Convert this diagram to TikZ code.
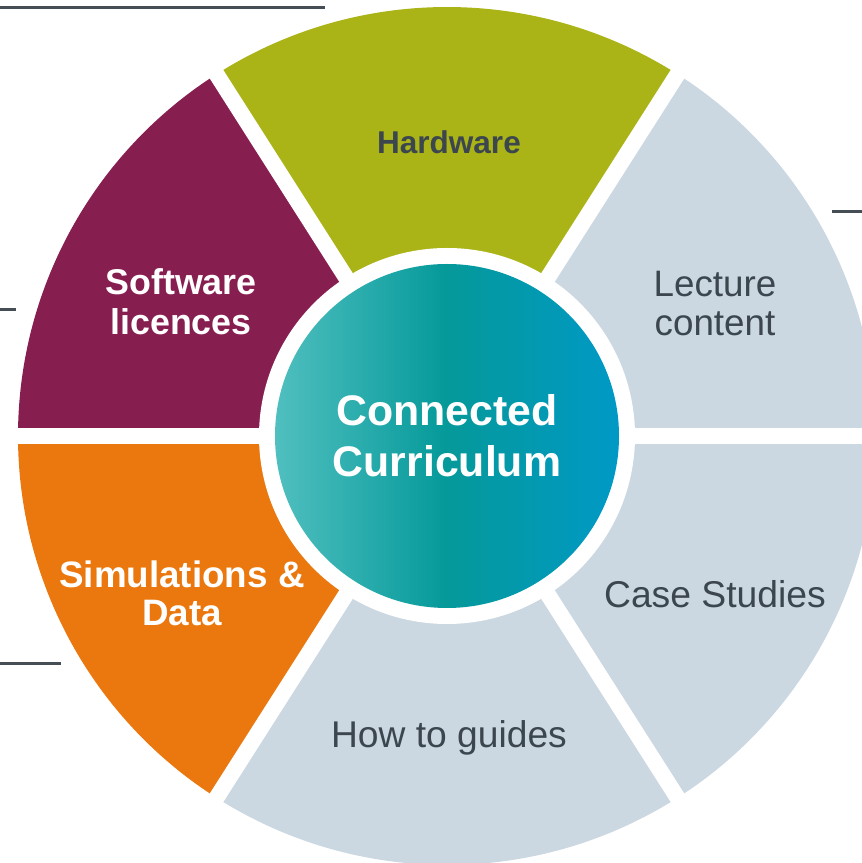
\documentclass[tikz,border=0pt]{standalone}
\usepackage{fontspec}
\setmainfont{Liberation Sans}
\definecolor{segpurple}{HTML}{871E50}
\definecolor{seggreen}{HTML}{AAB416}
\definecolor{segorange}{HTML}{EA780E}
\definecolor{seggray}{HTML}{CBD8E1}
\definecolor{txtdark}{HTML}{3C464E}
\definecolor{linedark}{HTML}{464E55}
\definecolor{hubleft}{HTML}{50BFBF}
\definecolor{hubmid}{HTML}{05999A}
\definecolor{hubright}{HTML}{0099C6}
\tikzset{
  gapline/.style={white, line width=16pt},
  deco/.style={linedark, line width=2.5pt},
  lbldark/.style={text=txtdark, align=center, inner sep=0pt},
  lbllight/.style={text=white, align=center, inner sep=0pt},
}
\begin{document}
\begin{tikzpicture}[x=1pt,y=1pt]
\useasboundingbox (0,0) rectangle (862,863);
\clip (0,0) rectangle (862,863);
\coordinate (C) at (447,427);
% sectors
\fill[seggray]   (C) -- ++(-57.5:429pt) arc[start angle=-57.5, end angle=0, radius=429pt] -- cycle;
\fill[seggray]   (C) -- ++(0:429pt) arc[start angle=0, end angle=57.5, radius=429pt] -- cycle;
\fill[seggreen]  (C) -- ++(57.5:429pt) arc[start angle=57.5, end angle=122.5, radius=429pt] -- cycle;
\fill[segpurple] (C) -- ++(122.5:429pt) arc[start angle=122.5, end angle=180, radius=429pt] -- cycle;
\fill[segorange] (C) -- ++(180:429pt) arc[start angle=180, end angle=237.5, radius=429pt] -- cycle;
\fill[seggray]   (C) -- ++(237.5:429pt) arc[start angle=237.5, end angle=302.5, radius=429pt] -- cycle;
% gaps
\foreach \a in {0,57.5,122.5,180,237.5,302.5}
  \draw[gapline] (C) -- ++(\a:460pt);
\fill[white] (C) circle[radius=188pt];
% hub
\node (hub) [circle, minimum size=344pt, inner sep=0pt, left color=hubleft, right color=hubright, middle color=hubmid, text=white, align=center,
  font=\fontsize{42.8pt}{51pt}\selectfont\bfseries] at (C) {Connected\\Curriculum};
% labels
\node (hw) [lbldark, anchor=base, font=\fontsize{31.5pt}{36pt}\selectfont\bfseries] at (449,709) {Hardware};
\node (sw) [lbllight, font=\fontsize{35.8pt}{40pt}\selectfont\bfseries] at (181,561) {Software\\licences};
\node (sim) [lbllight, font=\fontsize{36.8pt}{38pt}\selectfont\bfseries] at (182,269.5) {Simulations \&\\Data};
\node (lec) [lbldark, font=\fontsize{36.8pt}{39pt}\selectfont] at (715,559.5) {Lecture\\content};
\node (cs) [lbldark, anchor=base, font=\fontsize{37.3pt}{40pt}\selectfont] at (715,255) {Case Studies};
\node (how) [lbldark, anchor=base, font=\fontsize{37.2pt}{40pt}\selectfont] at (449,115) {How to guides};
% decorative rules
\coordinate (r1a) at (0,855.7);   \coordinate (r1b) at (325,855.7);
\coordinate (r2a) at (832,651.3); \coordinate (r2b) at (862,651.3);
\coordinate (r3a) at (0,553.7);   \coordinate (r3b) at (15.7,553.7);
\coordinate (r4a) at (0,199.7);   \coordinate (r4b) at (61,199.7);
\draw[deco] (r1a) -- (r1b);
\draw[deco] (r2a) -- (r2b);
\draw[deco] (r3a) -- (r3b);
\draw[deco] (r4a) -- (r4b);
\end{tikzpicture}
\end{document}
